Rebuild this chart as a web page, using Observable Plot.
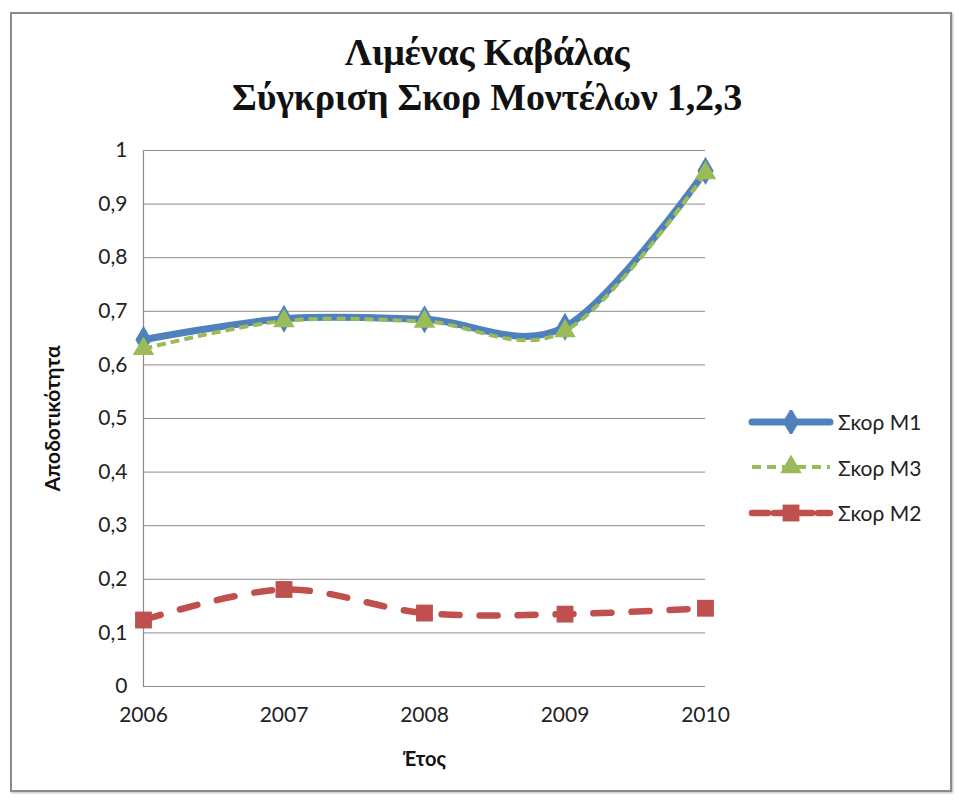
<!DOCTYPE html>
<html>
<head>
<meta charset="utf-8">
<script src="https://cdn.jsdelivr.net/npm/d3@7"></script>
<script src="https://cdn.jsdelivr.net/npm/@observablehq/plot@0.6"></script>
<style>
  body { margin: 0; background: #fff; }
  #wrap { position: relative; width: 959px; height: 800px; overflow: hidden; background:#fff; }
  #frame { position: absolute; left: 10px; top: 12px; width: 938px; height: 776px; border: 2px solid #8a8a8a; box-shadow: 1px 1px 2px #bbb; }
  #title { position: absolute; left: 0; width: 974px; top: 30px; text-align: center; font-family: "Liberation Serif", serif; font-weight: bold; font-size: 38px; line-height: 45px; color: #111; letter-spacing: -0.2px; }
  #chart { position: absolute; left: 0; top: 0; }
  #legend { position: absolute; left: 748px; top: 399px; font-family: Lato, sans-serif; font-size: 21px; color: #222; }
  .item { display: flex; align-items: center; height: 45.5px; }
  .item svg { margin-right: 4px; }
</style>
</head>
<body>
<div id="wrap">
  <div id="frame"></div>
  <div id="title">Λιμένας Καβάλας<br>Σύγκριση Σκορ Μοντέλων 1,2,3</div>
  <div id="chart"></div>
  <div id="legend"></div>
</div>
<script>
const years = [2006, 2007, 2008, 2009, 2010];
const scoreM1 = [0.647, 0.686, 0.685, 0.671, 0.962];
const scoreM3 = [0.630, 0.682, 0.681, 0.663, 0.958];
const scoreM2 = [0.124, 0.181, 0.137, 0.135, 0.146];
const yTicks = [0, 0.1, 0.2, 0.3, 0.4, 0.5, 0.6, 0.7, 0.8, 0.9, 1];
const seriesNames = ["Σκορ Μ1", "Σκορ Μ3", "Σκορ Μ2"];
const xTitle = "Έτος";
const yTitle = "Αποδοτικότητα";

const series = [
  {name: seriesNames[0], values: scoreM1, color: "#4F81BD", symbol: "diamond", width: 7, dash: null, legDash: null, r: 8.5, cap: "round"},
  {name: seriesNames[1], values: scoreM3, color: "#9BBB59", symbol: "triangle", width: 4, dash: "9,5", legDash: "9,6", r: 8, cap: "butt"},
  {name: seriesNames[2], values: scoreM2, color: "#C0504D", symbol: "square", width: 6.5, dash: "18,20", legDash: "16,6", r: 9.5, cap: "round"}
];
const rows = s => years.map((y, i) => ({year: y, value: s.values[i]}));

const fmt = d => (d === 0 || d === 1) ? String(d) : d.toFixed(1).replace(".", ",");

const drawOrder = [series[2], series[0], series[1]];
const marks = [
  Plot.gridY(yTicks, {stroke: "#8c8c8c", strokeOpacity: 1, strokeWidth: 1}),
  Plot.ruleX([2006], {stroke: "#8c8c8c", strokeWidth: 1.2}),
  Plot.ruleY([0], {stroke: "#8c8c8c", strokeWidth: 1.2}),
  Plot.axisY(yTicks, {tickSize: 0, tickPadding: 16, tickFormat: fmt, label: null, fontSize: 21, fill: "#222"}),
  Plot.axisX(years, {tickSize: 0, tickPadding: 21, tickFormat: d => String(d), label: null, fontSize: 21, fill: "#222"}),
  Plot.text([yTitle], {frameAnchor: "left", textAnchor: "middle", rotate: -90, dx: -90, fontWeight: "bold", fontSize: 21, fill: "#111"}),
  Plot.text([xTitle], {frameAnchor: "bottom", dy: 79, fontWeight: "bold", fontSize: 20, fill: "#111"})
];
for (const s of drawOrder) {
  marks.push(Plot.line(rows(s), {x: "year", y: "value", stroke: s.color, strokeWidth: s.width,
    strokeDasharray: s.dash, strokeLinecap: s.cap, curve: "cardinal", tension: 0}));
  marks.push(Plot.dot(rows(s), {x: "year", y: "value", symbol: () => s.symbol, r: s.r, fill: s.color, stroke: "none"}));
}

const chart = Plot.plot({
  width: 959, height: 800,
  marginLeft: 143, marginRight: 254, marginTop: 150, marginBottom: 114,
  style: {fontFamily: "Lato, sans-serif", fontSize: "21px", color: "#222", background: "transparent", overflow: "visible"},
  x: {type: "linear", domain: [2006, 2010]},
  y: {domain: [0, 1]},
  symbol: {type: "identity"},
  marks
});
document.getElementById("chart").appendChild(chart);

// legend
const leg = d3.select("#legend");
for (const s of series) {
  const item = leg.append("div").attr("class", "item");
  const svg = item.append("svg").attr("width", 86).attr("height", 24);
  svg.append("line").attr("x1", 4).attr("x2", 82).attr("y1", 12).attr("y2", 12)
    .attr("stroke", s.color).attr("stroke-width", s.width)
    .attr("stroke-dasharray", s.legDash)
    .attr("stroke-linecap", s.cap);
  const sym = {diamond: d3.symbolDiamond, triangle: d3.symbolTriangle, square: d3.symbolSquare}[s.symbol];
  svg.append("path").attr("transform", "translate(43,12)")
    .attr("d", d3.symbol(sym, Math.PI * s.r * s.r)()).attr("fill", s.color);
  item.append("span").text(s.name);
}
</script>
</body>
</html>
